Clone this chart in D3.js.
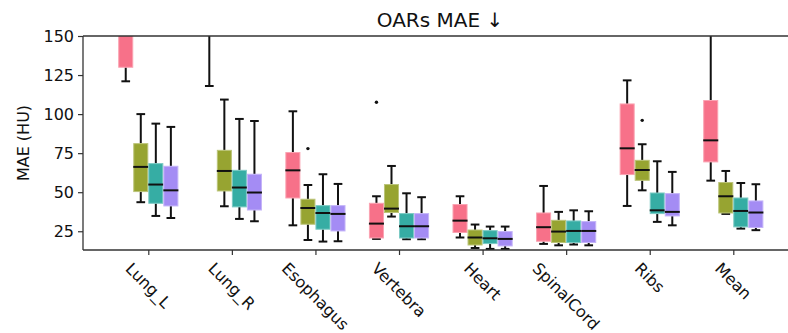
<!DOCTYPE html>
<html>
<head>
<meta charset="utf-8">
<script src="https://cdn.jsdelivr.net/npm/d3@7"></script>
<style>
  html, body { margin: 0; padding: 0; background: #fff; }
  svg { display: block; font-family: "DejaVu Sans", sans-serif; }
</style>
</head>
<body>
<svg id="chart" width="788" height="333"></svg>
<script>
// ---- data (5-number summaries: [whisker low, Q1, median, Q3, whisker high]) ----
const categories = ["Lung_L", "Lung_R", "Esophagus", "Vertebra", "Heart", "SpinalCord", "Ribs", "Mean"];
const seriesNames = ["S1", "S2", "S3", "S4"];
const seriesColors = ["#f77189", "#97a431", "#36ada4", "#a48cf4"];

const series1 = [
  [121, 130, 165, 185, 230],
  [118, 160, 180, 200, 250],
  [28.8, 46.3, 64, 75.4, 101.8],
  [20.1, 20.7, 29.9, 42.9, 47.4],
  [21, 24.2, 31.8, 42.1, 47.4],
  [16.9, 18.6, 27.6, 36.7, 54],
  [41.2, 61.3, 78.1, 106.5, 121.6],
  [57.4, 69.4, 83.2, 108.7, 175]
];
const series2 = [
  [43.6, 50.4, 66.2, 81.1, 100],
  [41, 50.8, 63.6, 76.8, 109.3],
  [19.4, 29.5, 39.9, 45.5, 54.6],
  [34.4, 37, 39.5, 54.9, 66.8],
  [14.3, 16.2, 21, 25.8, 29.3],
  [16, 17.8, 24.8, 32, 37.4],
  [51.2, 57.6, 64.2, 70.4, 80.7],
  [36.1, 36.7, 47.4, 56.2, 63.6]
];
const series3 = [
  [34.8, 42.9, 54.9, 68.3, 93.9],
  [32.9, 40.6, 53, 64, 96.9],
  [18.4, 26.3, 36.7, 41.4, 61.5],
  [19.9, 20.7, 28.2, 36.3, 49.3],
  [13.7, 17.1, 20.5, 25.4, 28],
  [16.5, 17.8, 25.2, 31.6, 38.4],
  [31, 36.3, 38.4, 49.5, 69.8],
  [26.7, 27.8, 38, 46.3, 55.9]
];
const series4 = [
  [33.5, 41.2, 51.2, 66.6, 91.8],
  [31.4, 38.6, 49.8, 61.5, 95.6],
  [18.6, 25.2, 36.1, 41.4, 55.3],
  [19.9, 20.7, 28.2, 36.3, 46.8],
  [13.7, 15.6, 20.1, 24.8, 28],
  [16, 17.8, 25.2, 31.2, 37.8],
  [28.8, 34.8, 37.4, 49.1, 63],
  [25.7, 27.4, 37, 44.4, 55.1]
];
// outliers: category, series index, value
const outlierCats = ["Vertebra", "Esophagus", "Ribs"];
const outlierSeries = [0, 1, 1];
const outlierValues = [107.6, 77.9, 96];

const yTicks = [25, 50, 75, 100, 125, 150];
const titleText = "OARs MAE \u2193";
const yLabel = "MAE (HU)";

(function () {
  const allSeries = [series1, series2, series3, series4];
  const svg = d3.select("#chart");
  const mLeft = 83, mRight = 797, mTop = 36, mBottom = 250;
  const fs = 16;

  const x = d3.scalePoint().domain(categories).range([148.3, 733.3]);
  const groupW = x.step() * 0.72;
  const hue = d3.scaleBand().domain(seriesNames).range([-groupW / 2, groupW / 2]).padding(0);
  const y = d3.scaleLinear().domain([13, 150]).range([mBottom, mTop]);

  svg.append("defs").append("clipPath").attr("id", "clip")
    .append("rect").attr("x", mLeft).attr("y", mTop).attr("width", mRight - mLeft).attr("height", mBottom - mTop);

  const plot = svg.append("g").attr("clip-path", "url(#clip)");

  const boxW = hue.bandwidth();
  const capW = 8.7;

  allSeries.forEach((ser, si) => {
    const col = seriesColors[si];
    const edge = d3.interpolateRgb(col, "#ffffff")(0.35);
    const g = plot.append("g");
    ser.forEach((s, ci) => {
      const cx = x(categories[ci]) + hue(seriesNames[si]) + boxW / 2;
      const [lo, q1, med, q3, hi] = s;
      g.append("line").attr("x1", cx).attr("x2", cx).attr("y1", y(q3)).attr("y2", y(hi))
        .attr("stroke", "#111").attr("stroke-width", 2);
      g.append("line").attr("x1", cx).attr("x2", cx).attr("y1", y(q1)).attr("y2", y(lo))
        .attr("stroke", "#111").attr("stroke-width", 2);
      [lo, hi].forEach(v => {
        g.append("line").attr("x1", cx - capW / 2).attr("x2", cx + capW / 2)
          .attr("y1", y(v)).attr("y2", y(v)).attr("stroke", "#111").attr("stroke-width", 2);
      });
      g.append("rect").attr("x", cx - boxW / 2 + 0.5).attr("width", boxW - 1)
        .attr("y", y(q3)).attr("height", y(q1) - y(q3))
        .attr("fill", col).attr("stroke", edge).attr("stroke-width", 1);
      g.append("line").attr("x1", cx - boxW / 2).attr("x2", cx + boxW / 2)
        .attr("y1", y(med)).attr("y2", y(med)).attr("stroke", "#111").attr("stroke-width", 2);
    });
  });

  outlierValues.forEach((v, i) => {
    const si = outlierSeries[i];
    const cx = x(outlierCats[i]) + hue(seriesNames[si]) + boxW / 2;
    plot.append("circle").attr("cx", cx).attr("cy", y(v)).attr("r", 1.7).attr("fill", "#111");
  });

  // spines
  svg.append("line").attr("x1", mLeft).attr("x2", mRight).attr("y1", mTop).attr("y2", mTop)
    .attr("stroke", "#333").attr("stroke-width", 1.3);
  svg.append("line").attr("x1", mLeft).attr("x2", mRight).attr("y1", mBottom).attr("y2", mBottom)
    .attr("stroke", "#333").attr("stroke-width", 1.3);
  svg.append("line").attr("x1", mLeft).attr("x2", mLeft).attr("y1", mTop).attr("y2", mBottom)
    .attr("stroke", "#333").attr("stroke-width", 1.3);

  // y axis
  const yAxis = d3.axisLeft(y).tickValues(yTicks).tickSize(5).tickPadding(4);
  const gy = svg.append("g").attr("transform", `translate(${mLeft},0)`).call(yAxis);
  gy.select(".domain").remove();
  gy.selectAll(".tick line").attr("stroke", "#333").attr("stroke-width", 1.2);
  gy.selectAll(".tick text").attr("font-size", fs).attr("fill", "#111")
    .attr("font-family", "DejaVu Sans, sans-serif");

  // x axis ticks
  const xAxis = d3.axisBottom(x).tickSize(5).tickFormat("");
  const gx = svg.append("g").attr("transform", `translate(0,${mBottom})`).call(xAxis);
  gx.select(".domain").remove();
  gx.selectAll(".tick line").attr("stroke", "#333").attr("stroke-width", 1.2);

  // rotated category labels
  const labG = svg.append("g");
  categories.forEach(c => {
    const t = labG.append("text").text(c).attr("font-size", fs).attr("fill", "#111")
      .attr("text-anchor", "middle").attr("dy", "0.35em");
    const w = t.node().getComputedTextLength();
    const h = fs;
    const half = (w + h) / (2 * Math.SQRT2);
    t.attr("transform", `translate(${x(c)},${mBottom + 10 + half}) rotate(45)`);
  });

  svg.append("text").attr("x", (mLeft + mRight) / 2).attr("y", 27).attr("text-anchor", "middle")
    .attr("font-size", 20).attr("fill", "#111").text(titleText);

  svg.append("text").attr("transform", `translate(29,${(mTop + mBottom) / 2}) rotate(-90)`)
    .attr("text-anchor", "middle").attr("font-size", fs).attr("fill", "#111").text(yLabel);
})();
</script>
</body>
</html>
